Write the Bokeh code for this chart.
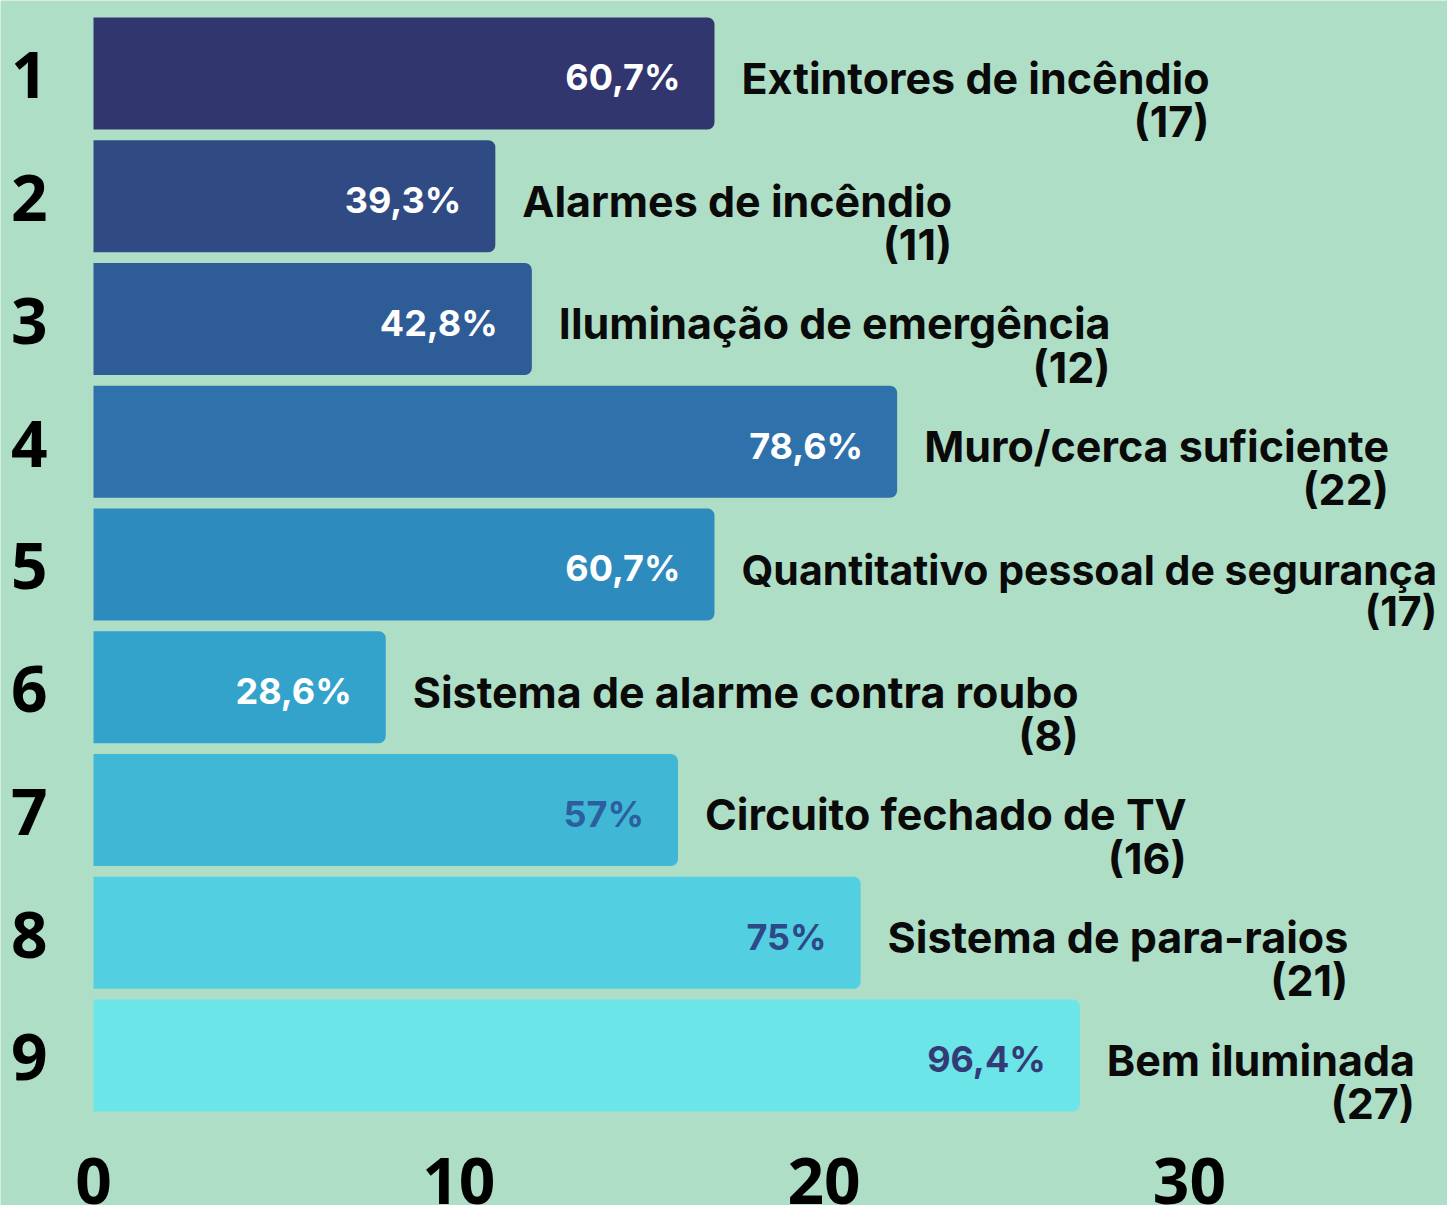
from bokeh.plotting import figure
from bokeh.models import ColumnDataSource, Range1d
from bokeh.core.properties import value
from bokeh.embed import file_html
from bokeh.resources import INLINE

# ---- data ----
ranks = [1, 2, 3, 4, 5, 6, 7, 8, 9]
rank_labels = ["1", "2", "3", "4", "5", "6", "7", "8", "9"]
names = [
    "Extintores de incêndio",
    "Alarmes de incêndio",
    "Iluminação de emergência",
    "Muro/cerca suficiente",
    "Quantitativo pessoal de segurança",
    "Sistema de alarme contra roubo",
    "Circuito fechado de TV",
    "Sistema de para-raios",
    "Bem iluminada",
]
counts = [17, 11, 12, 22, 17, 8, 16, 21, 27]
pct_labels = ["60,7%", "39,3%", "42,8%", "78,6%", "60,7%", "28,6%", "57%", "75%", "96,4%"]
x_ticks = [0, 10, 20, 30]
x_tick_labels = ["0", "10", "20", "30"]

# ---- styles ----
BG = "#afdec7"
bar_colors = ["#32366e", "#304a83", "#2d5c96", "#2f72ab", "#2e8bbd",
              "#33a3cc", "#41b7d6", "#52cfe0", "#6be5e8"]
pct_colors = ["#ffffff"] * 6 + ["#2c5f9e", "#2f4887", "#333a74"]
name_sizes = ["43px", "43px", "43px", "43px", "41px", "43px", "43px", "43px", "43px"]

src = ColumnDataSource(dict(
    rank=ranks,
    rank_label=rank_labels,
    count=counts,
    zero=[0] * len(ranks),
    pct=pct_labels,
    label=[f"{n}\n({c})" for n, c in zip(names, counts)],
    bar_color=bar_colors,
    pct_color=pct_colors,
    name_size=name_sizes,
))

p = figure(
    width=1447, height=1205,
    output_backend="svg", toolbar_location=None,
    x_range=Range1d(-2.546, 37.066), y_range=Range1d(10.222, 0.4053),
    x_axis_location=None, y_axis_location=None,
    min_border_left=0, min_border_right=0, min_border_top=0, min_border_bottom=0,
)
p.background_fill_color = BG
p.border_fill_color = BG
p.outline_line_color = None
p.grid.grid_line_color = None

p.hbar(y="rank", left=0, right="count", height=0.912, source=src,
       fill_color="bar_color", line_color=None, border_radius=(0, 7, 7, 0))

# percentage labels inside bars
p.text(x="count", y="rank", text="pct", source=src,
       text_align="right", text_baseline="middle",
       x_offset=-34, y_offset=4,
       text_font=value("Inter"), text_font_style="bold", text_font_size="36px",
       text_color="pct_color")

# category names + counts
p.text(x="count", y="rank", text="label", source=src,
       anchor="center_left", text_align="right", text_baseline="middle",
       x_offset=27, y_offset=26, text_line_height=0.83,
       text_font=value("Inter"), text_font_style="bold", text_font_size="name_size",
       text_color="#0a0a0a")

# rank labels (left)
p.text(x="zero", y="rank", text="rank_label", source=src,
       text_align="right", text_baseline="middle", x_offset=-46, y_offset=2,
       text_font=value("Open Sans"), text_font_style="bold", text_font_size="64px",
       text_color="#000000")

# x tick labels (bottom)
tick_row = 10
p.text(x=x_ticks, y=[tick_row] * len(x_ticks), text=x_tick_labels,
       text_align="center", text_baseline="middle", y_offset=3,
       text_font=value("Open Sans"), text_font_style="bold", text_font_size="64px",
       text_color="#000000")

html = file_html(p, INLINE)
html = html.replace("<body>", f'<body style="background-color:{BG};">', 1)
open("out.html", "w").write(html)
